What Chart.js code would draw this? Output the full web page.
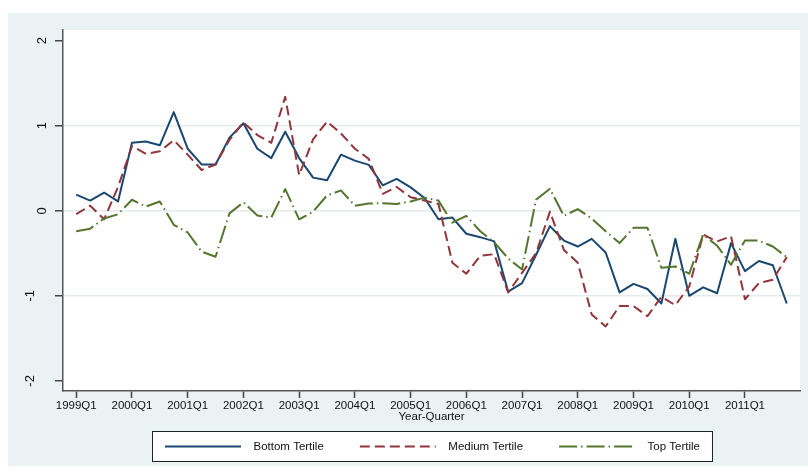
<!DOCTYPE html>
<html>
<head>
<meta charset="utf-8">
<script src="https://cdn.jsdelivr.net/npm/chart.js@4"></script>
<style>
  html, body { margin: 0; padding: 0; background: #ffffff; }
  #wrap { position: relative; width: 808px; height: 472px; }
  canvas { display: block; }
</style>
</head>
<body>
<div id="wrap"><canvas id="chart" width="808" height="472"></canvas></div>
<script>
// Quarterly index by income tertile, 1999Q1-2011Q4
const quarters = [
  '1999Q1','1999Q2','1999Q3','1999Q4','2000Q1','2000Q2','2000Q3','2000Q4',
  '2001Q1','2001Q2','2001Q3','2001Q4','2002Q1','2002Q2','2002Q3','2002Q4',
  '2003Q1','2003Q2','2003Q3','2003Q4','2004Q1','2004Q2','2004Q3','2004Q4',
  '2005Q1','2005Q2','2005Q3','2005Q4','2006Q1','2006Q2','2006Q3','2006Q4',
  '2007Q1','2007Q2','2007Q3','2007Q4','2008Q1','2008Q2','2008Q3','2008Q4',
  '2009Q1','2009Q2','2009Q3','2009Q4','2010Q1','2010Q2','2010Q3','2010Q4',
  '2011Q1','2011Q2','2011Q3','2011Q4'
];

const bottomTertile = [
  0.19, 0.12, 0.215, 0.11, 0.80, 0.815, 0.77, 1.16,
  0.73, 0.545, 0.545, 0.86, 1.03, 0.73, 0.62, 0.93,
  0.62, 0.39, 0.36, 0.66, 0.59, 0.54, 0.30, 0.375,
  0.275, 0.15, -0.10, -0.08, -0.27, -0.31, -0.36, -0.95,
  -0.85, -0.52, -0.18, -0.35, -0.42, -0.33, -0.49, -0.96,
  -0.86, -0.92, -1.09, -0.33, -1.00, -0.90, -0.97, -0.38,
  -0.71, -0.59, -0.64, -1.09
];

const mediumTertile = [
  -0.04, 0.06, -0.10, 0.28, 0.76, 0.67, 0.70, 0.83,
  0.66, 0.48, 0.545, 0.835, 1.04, 0.89, 0.80, 1.34,
  0.42, 0.84, 1.05, 0.91, 0.73, 0.61, 0.20, 0.28,
  0.16, 0.12, 0.08, -0.61, -0.74, -0.53, -0.51, -0.96,
  -0.73, -0.50, -0.01, -0.46, -0.61, -1.22, -1.36, -1.12,
  -1.12, -1.24, -1.01, -1.11, -0.89, -0.28, -0.36, -0.30,
  -1.04, -0.85, -0.81, -0.545
];

const topTertile = [
  -0.24, -0.21, -0.09, -0.04, 0.13, 0.05, 0.11, -0.165,
  -0.255, -0.48, -0.54, -0.03, 0.10, -0.055, -0.08, 0.255,
  -0.10, -0.01, 0.18, 0.24, 0.06, 0.085, 0.09, 0.08,
  0.11, 0.155, 0.12, -0.14, -0.06, -0.24, -0.37, -0.56,
  -0.69, 0.13, 0.26, -0.06, 0.02, -0.09, -0.24, -0.38,
  -0.20, -0.20, -0.67, -0.655, -0.74, -0.28, -0.41, -0.635,
  -0.35, -0.35, -0.42, -0.545
];

const yTickValues = [-2, -1, 0, 1, 2];
const xTickLabels = ['1999Q1','2000Q1','2001Q1','2002Q1','2003Q1','2004Q1','2005Q1',
                     '2006Q1','2007Q1','2008Q1','2009Q1','2010Q1','2011Q1'];

const FONT = '"Liberation Sans", Arial, Helvetica, sans-serif';

const toPoints = arr => arr.map((v, i) => ({ x: i, y: v }));

// Outer light panel and white plot region
const backdrop = {
  id: 'backdrop',
  beforeDraw(chart) {
    const { ctx, chartArea: a } = chart;
    ctx.save();
    ctx.fillStyle = '#eaf2f3';
    ctx.fillRect(8, 13, chart.width - 8, 453);
    ctx.fillStyle = '#ffffff';
    ctx.fillRect(a.left, a.top, a.right - a.left, a.bottom - a.top);
    ctx.restore();
  }
};

// Framed one-row legend centred under the plot
const framedLegend = {
  id: 'framedLegend',
  afterDraw(chart) {
    const { ctx, chartArea } = chart;
    const sample = 76, textGap = 12.5, itemGap = 36, pad = 12.5, boxH = 30;
    ctx.save();
    ctx.font = '11.5px ' + FONT;
    const items = chart.data.datasets.map(ds => ({ ds, w: ctx.measureText(ds.label).width }));
    const total = items.reduce((s, it) => s + sample + textGap + it.w, 0)
                + itemGap * (items.length - 1) + 2 * pad;
    const cx = (chartArea.left + chartArea.right) / 2;
    const left = Math.round(cx - total / 2) + 0.5;
    const top = Math.round(chartArea.bottom + 40) + 0.5;
    ctx.fillStyle = '#ffffff';
    ctx.fillRect(left, top, total, boxH);
    ctx.strokeStyle = '#222222';
    ctx.lineWidth = 1;
    ctx.strokeRect(left, top, total, boxH);
    const cy = top + boxH / 2;
    let x = left + pad;
    items.forEach(it => {
      ctx.beginPath();
      ctx.setLineDash(it.ds.borderDash || []);
      ctx.strokeStyle = it.ds.borderColor;
      ctx.lineWidth = it.ds.borderWidth;
      ctx.moveTo(x, cy);
      ctx.lineTo(x + sample, cy);
      ctx.stroke();
      ctx.setLineDash([]);
      ctx.fillStyle = '#111111';
      ctx.textAlign = 'left';
      ctx.textBaseline = 'middle';
      ctx.fillText(it.ds.label, x + sample + textGap, cy);
      x += sample + textGap + it.w + itemGap;
    });
    ctx.restore();
  }
};

new Chart(document.getElementById('chart'), {
  type: 'line',
  data: {
    datasets: [
      {
        label: 'Bottom Tertile',
        data: toPoints(bottomTertile),
        borderColor: '#1a476f',
        borderWidth: 2,
        borderDash: [],
        order: 3
      },
      {
        label: 'Medium Tertile',
        data: toPoints(mediumTertile),
        borderColor: '#90353b',
        borderWidth: 2,
        borderDash: [10, 5],
        order: 2
      },
      {
        label: 'Top Tertile',
        data: toPoints(topTertile),
        borderColor: '#55752f',
        borderWidth: 2,
        borderDash: [18, 4, 1.5, 4],
        order: 1
      }
    ]
  },
  options: {
    responsive: false,
    animation: false,
    devicePixelRatio: 1,
    layout: { padding: { left: 8, top: 30, right: 8, bottom: 48 } },
    elements: {
      point: { radius: 0, hoverRadius: 0 },
      line: { tension: 0, fill: false, borderCapStyle: 'butt', borderJoinStyle: 'round' }
    },
    plugins: {
      legend: { display: false },
      tooltip: { enabled: false }
    },
    scales: {
      x: {
        type: 'linear',
        min: -0.95,
        max: 51.95,
        afterBuildTicks: scale => {
          scale.ticks = xTickLabels.map(l => ({ value: quarters.indexOf(l) }));
        },
        afterFit: scale => {
          scale.height = 33;
          scale.paddingLeft = 0;
          scale.paddingRight = 0;
        },
        grid: {
          drawOnChartArea: false,
          drawTicks: true,
          tickLength: 7,
          tickColor: '#444444',
          tickWidth: 1.5
        },
        border: { display: true, color: '#555555', width: 1.5 },
        ticks: {
          autoSkip: false,
          maxRotation: 0,
          padding: 1,
          color: '#111111',
          font: { family: FONT, size: 11.5 },
          callback: v => quarters[v]
        },
        title: {
          display: true,
          text: 'Year-Quarter',
          color: '#111111',
          font: { family: FONT, size: 11.5 },
          padding: { top: 0, bottom: 0 }
        }
      },
      y: {
        min: -2.119,
        max: 2.126,
        afterBuildTicks: scale => {
          scale.ticks = yTickValues.map(v => ({ value: v }));
        },
        afterFit: scale => {
          scale.width = 55;
          scale.paddingTop = 0;
          scale.paddingBottom = 0;
        },
        grid: {
          color: c => (c.tick && Math.abs(c.tick.value) === 2) ? 'rgba(0,0,0,0)' : '#e3ebee',
          lineWidth: 1.5,
          drawTicks: true,
          tickLength: 8,
          tickColor: '#444444',
          tickWidth: 1.5
        },
        border: { display: true, color: '#555555', width: 1.5 },
        ticks: {
          minRotation: 90,
          maxRotation: 90,
          crossAlign: 'center',
          padding: 7,
          color: '#111111',
          font: c => ({
            family: FONT,
            size: 13,
            lineHeight: (c.tick && c.tick.value < 0) ? 1.85 : 1.2
          }),
          callback: v => (v < 0 ? [String(v), ''] : String(v))
        }
      }
    }
  },
  plugins: [backdrop, framedLegend]
});
</script>
</body>
</html>
